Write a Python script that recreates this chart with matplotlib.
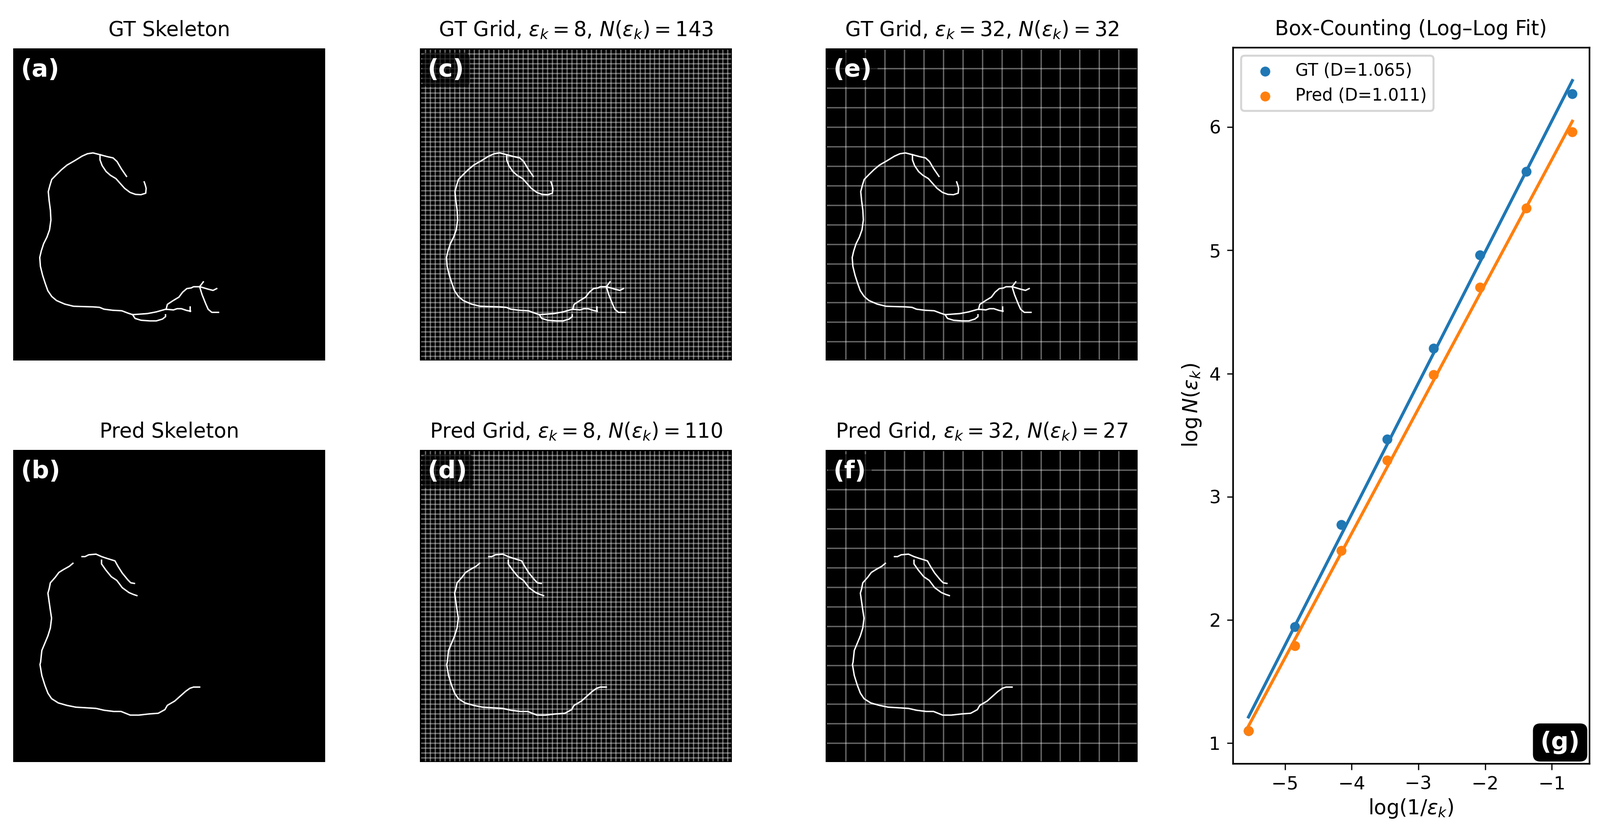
#!/usr/bin/env python3
"""Box-counting figure: skeletons, grid overlays and the log-log fit."""
import numpy as np
import matplotlib
matplotlib.use("Agg")
import matplotlib.pyplot as plt

W, H = 3277, 1695
BLUE, ORANGE = "#1f77b4", "#ff7f0e"

# skeleton branches, in image pixels (x, y) of the 512x512 masks
gt_main = [(186,210),(177.5,197.6),(170.4,185.6),(164,179.7),(154.3,177.6),(142.5,174.4),(131,171.5),(122,172.8),(113,176.8),(100.8,184.3),(88.3,191.5),(79.3,199),(71.1,207),(63.3,215),(60.4,224.3),(57.6,235),(59,249.6),(61.1,265.6),(61.9,281.6),(59.7,297.6),(55.4,309.6),(50,320.3),(46.1,332.3),(43.6,343),(44.7,357.6),(48.3,372.3),(52.6,385.6),(56.9,397.6),(63.3,407),(71.1,413.6),(84.7,419.5),(99,423),(113.3,423.5),(131.1,424),(141.8,424.8),(149,427.8),(163.2,429.6),(178.2,430.4),(188.2,434.2),(196,436.8),(209.7,435.8),(220.4,435),(234.6,432.3),(250.7,427.8)]
gt_loop = [(142.5,174.4),(142.5,183),(146,192.3),(152.5,202),(159.7,208.3),(168.6,213.6),(175.7,221.6),(182.9,229.6),(191.8,236.3),(200.7,239.5),(209.7,240),(217.5,237.6),(218.2,229.6),(216.8,224.3),(215,219)]
gt_low1 = [(196,436.8),(200,443),(210,446),(224,447),(235,447),(245,444),(250,440),(250,437)]
gt_low2 = [(251,428),(263,429),(269,427),(276,427),(285,430),(291,431)]
gt_tick = [(290,424),(290,431)]
gt_up = [(251,428),(253,420),(262,414),(272,408),(278,400),(285,394),(292,393),(296,391),(306,391),(312,383)]
gt_right = [(306,391),(310,392),(320,395),(328,397),(334,394)]
gt_down = [(306,391),(310,404),(316,419),(320,428),(326,433),(337,433)]
gt_branches = [gt_main, gt_loop, gt_low1, gt_low2, gt_tick, gt_up, gt_right, gt_down]

pred_main = [(98,186),(92,191),(83,196),(75,201),(69,209),(61,218),(59,228),(57,235),(59,249),(61,263),(63,276),(61,292),(57,305),(52,317),(47,329),(45,348),(44,352),(47,370),(52,386),(57,399),(63,408),(74,415),(88,419),(103,422),(120,423),(136,424),(149,427),(165,429),(177,429),(192,435),(206,435),(224,433),(238,432),(249,426),(253,419),(265,412),(274,404),(283,396),(290,391),(296,389),(306,389)]
pred_top = [(113,175),(118,175),(124,172),(136,171),(145,175),(154,178),(167,182),(172,191),(179,202),(188,213),(193,218),(199,219)]
pred_in = [(145,181),(145,187),(152,197),(161,208),(170,214),(179,226),(190,234),(197,237),(203,239)]
pred_branches = [pred_main, pred_top, pred_in]

# box-counting results
epsilons = [2, 4, 8, 16, 32, 64, 128, 256]
gt_counts = [528, 281, 143, 67, 32, 16, 7, 3]
pred_counts = [388, 209, 110, 54, 27, 13, 6, 3]

titles_left = ["GT Skeleton", "Pred Skeleton"]


def add_axes_px(x0, y0, x1, y1):
    return fig.add_axes([x0 / W, 1 - y1 / H, (x1 - x0) / W, (y1 - y0) / H])


def mask_panel(x0, y0, branches, title, letter, eps=None):
    ax = add_axes_px(x0, y0, x0 + 639, y0 + 639)
    ax.set_facecolor("black")
    ax.set_xlim(0, 512); ax.set_ylim(512, 0)
    ax.set_xticks([]); ax.set_yticks([])
    for s in ax.spines.values():
        s.set_visible(False)
    if eps:
        for k in np.arange(eps, 512, eps):
            ax.plot([k + 1, k + 1], [2, 510], color="white", alpha=0.38, lw=0.7, solid_capstyle="butt")
            ax.plot([2, 510], [k + 1, k + 1], color="white", alpha=0.38, lw=0.7, solid_capstyle="butt")
    for b in branches:
        xs, ys = zip(*b)
        ax.plot(xs, ys, color="white", lw=0.7, solid_joinstyle="round")
    ax.set_title(title, fontsize=10)
    ax.text(0.025, 0.969, letter, transform=ax.transAxes, color="white", fontsize=12, fontweight="bold", ha="left", va="top",
            bbox=dict(boxstyle="round,pad=0.22", fc="black", ec="none", alpha=0.65), zorder=10)
    return ax


fig = plt.figure(figsize=(W / 300, H / 300), dpi=300)

mask_panel(27, 99, gt_branches, titles_left[0], "(a)")
mask_panel(27, 921, pred_branches, titles_left[1], "(b)")
mask_panel(860, 99, gt_branches, r"GT Grid, $\varepsilon_k=8$, $N(\varepsilon_k)=143$", "(c)", 8)
mask_panel(860, 921, pred_branches, r"Pred Grid, $\varepsilon_k=8$, $N(\varepsilon_k)=110$", "(d)", 8)
mask_panel(1691, 99, gt_branches, r"GT Grid, $\varepsilon_k=32$, $N(\varepsilon_k)=32$", "(e)", 32)
mask_panel(1691, 921, pred_branches, r"Pred Grid, $\varepsilon_k=32$, $N(\varepsilon_k)=27$", "(f)", 32)

# log-log fit
axg = add_axes_px(2525, 97, 3255, 1563)
x = np.log(1 / np.array(epsilons, float))
for counts, col, lab in [(gt_counts, BLUE, "GT (D=1.065)"), (pred_counts, ORANGE, "Pred (D=1.011)")]:
    y = np.log(np.array(counts, float))
    slope, icpt = np.polyfit(x, y, 1)
    axg.scatter(x, y, s=15, color=col, label=lab)
    axg.plot(x, slope * x + icpt, color=col)
axg.set_xlim(-5.78, -0.44); axg.set_ylim(0.835, 6.646)
axg.set_xticks([-5, -4, -3, -2, -1]); axg.set_yticks([1, 2, 3, 4, 5, 6])
axg.tick_params(labelsize=9, length=3, width=0.6, pad=3)
axg.set_xlabel(r"$\log(1/\varepsilon_k)$", fontsize=10, labelpad=2)
axg.set_ylabel(r"$\log N(\varepsilon_k)$", fontsize=10, labelpad=3)
axg.set_title("Box-Counting (Log–Log Fit)", fontsize=10)
axg.legend(loc="upper left", fontsize=8.3)
axg.text(0.974, 0.013, "(g)", transform=axg.transAxes, color="white", fontsize=12, fontweight="bold", ha="right", va="bottom",
         bbox=dict(boxstyle="round,pad=0.3", fc="black", ec="none"), zorder=10)

fig.savefig("out.png", dpi=300)
plt.close(fig)
